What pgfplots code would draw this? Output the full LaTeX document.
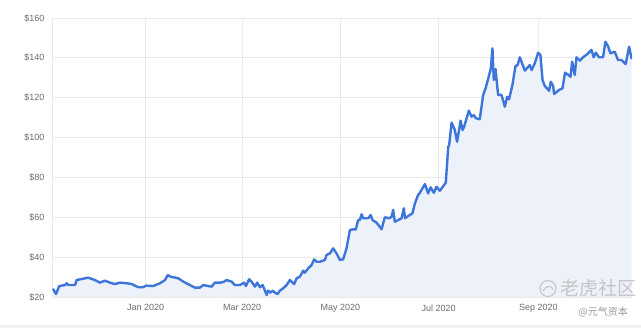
\documentclass[border=0pt]{standalone}
\usepackage{pgfplots}
\pgfplotsset{compat=1.18}
\usepackage{pgfplotstable}
\usepackage{fontspec}
\setmainfont{Liberation Sans}
\newfontfamily\cjk{Noto Sans CJK SC}
\definecolor{lineblue}{HTML}{3D75DA}
\definecolor{fillblue}{HTML}{EDF1FA}
\definecolor{gridgray}{HTML}{EAEAEA}
\definecolor{labgray}{HTML}{6B6B6B}
\definecolor{wmgray}{HTML}{C6C6C6}

\pgfplotstableread{
d v
-57.4 23.9
-55.7 21.5
-53.7 25.5
-50.1 26.0
-49.1 26.9
-48.1 26.0
-43.9 26.0
-42.9 28.5
-35.7 29.7
-31.5 28.5
-28.4 27.2
-25.3 28.2
-22.2 27.2
-19.1 26.5
-16.0 27.2
-11.8 26.9
-8.7 26.5
-4.6 24.9
-1.5 24.9
0.2 25.7
4.7 25.5
8.9 26.9
12.0 28.5
13.7 31.0
15.5 30.2
20.2 29.4
23.4 27.7
27.5 26.0
30.6 24.7
33.7 24.7
35.8 26.0
38.9 25.5
41.0 25.2
43.0 27.2
46.1 27.2
48.2 27.5
50.3 28.5
53.4 27.7
55.5 26.0
58.6 26.0
61.2 27.2
62.3 25.5
64.3 28.9
65.8 27.7
67.9 25.2
69.3 27.2
71.0 24.9
72.7 26.0
75.2 21.0
76.1 23.2
77.6 22.2
78.9 23.2
80.3 22.2
82.0 21.5
83.4 23.2
85.5 24.4
87.6 26.0
89.6 28.5
91.3 27.2
92.3 26.5
93.8 29.4
95.8 30.2
97.9 33.2
98.9 32.2
101.0 34.4
103.1 36.0
104.7 38.9
106.2 37.7
108.3 37.7
111.4 38.6
112.4 41.1
114.5 41.9
116.5 44.4
118.6 41.9
120.7 38.6
122.7 38.9
124.8 44.4
126.9 53.6
128.6 53.9
130.6 53.9
132.0 58.6
133.1 58.6
134.2 61.5
135.2 59.5
138.3 59.5
139.8 61.1
141.0 58.6
143.5 57.3
146.6 54.0
148.6 60.0
151.3 59.5
152.8 60.3
153.8 63.7
154.8 57.8
156.9 58.6
159.0 59.5
160.4 64.5
161.2 59.5
163.1 60.6
165.8 62.0
167.3 67.0
169.3 71.2
170.4 72.3
173.5 76.7
175.5 72.0
177.0 75.0
179.1 72.3
180.7 75.3
182.8 73.3
186.5 77.4
188.0 95.4
188.6 96.3
190.1 107.5
192.1 103.8
193.5 97.9
195.7 108.5
196.9 103.8
197.9 105.5
200.8 113.5
202.5 110.5
203.9 111.3
205.2 109.7
207.6 109.2
209.7 121.4
211.2 124.7
212.8 129.4
214.5 134.8
215.5 144.8
216.3 128.9
217.4 134.4
219.0 121.4
221.1 121.4
223.2 115.5
224.6 120.5
225.8 119.2
227.9 126.4
229.8 135.9
231.1 136.4
232.5 140.3
235.6 133.6
238.7 136.4
239.8 133.9
241.8 137.3
243.9 142.6
245.3 141.4
246.6 128.9
248.0 125.9
250.7 123.5
251.7 128.0
253.2 125.9
253.8 121.9
256.9 123.9
259.0 124.7
260.6 132.6
262.7 131.4
264.0 130.5
265.0 138.1
266.6 131.4
267.7 140.3
269.8 138.6
271.8 140.3
274.3 141.8
277.0 144.0
278.4 140.3
279.7 142.6
281.7 140.3
284.2 140.3
285.7 148.1
287.3 145.9
288.8 142.3
291.5 143.1
293.5 138.9
295.7 138.9
298.3 136.9
300.4 145.6
301.9 139.8
}\pricedata

\begin{document}
\begin{tikzpicture}
\begin{axis}[
  scale only axis,
  width=580bp, height=279bp,
  xmin=-58.2, xmax=302.2,
  ymin=20, ymax=160,
  axis line style={draw=none},
  tick style={draw=none},
  grid=major,
  major grid style={gridgray, line width=0.8bp},
  xtick={0,60,121,182,244},
  xticklabels={Jan 2020,Mar 2020,May 2020,Jul 2020,Sep 2020},
  ytick={20,40,60,80,100,120,140,160},
  yticklabels={\$20,\$40,\$60,\$80,\$100,\$120,\$140,\$160},
  tick label style={font=\fontsize{9bp}{10bp}\selectfont, text=labgray},
  yticklabel style={xshift=-4bp},
  xticklabel style={yshift=-4bp},
  extra x ticks={-58.2},
  extra x tick labels={},
  extra x tick style={grid=major},
  clip=true,
]
\addplot[fill=fillblue, draw=none] table[x=d,y=v] {\pricedata} \closedcycle;
\addplot[lineblue, line width=2.4bp, line join=round, line cap=round] table[x=d,y=v] {\pricedata};
\end{axis}
% watermark
\draw[wmgray, line width=1.1bp] (496bp,8.5bp) circle (8bp);
\draw[wmgray, line width=1.1bp] (491bp,6bp) .. controls (494bp,12bp) and (500bp,12bp) .. (501bp,7bp);
\node[anchor=west, text=wmgray, inner sep=0pt] at (508bp,9bp) {\cjk\fontsize{19bp}{20bp}\selectfont 老虎社区};
\node[anchor=east, text=black!40, inner sep=0pt] at (576bp,-15bp) {\cjk\fontsize{10bp}{11bp}\selectfont @元气资本};
\fill[black!6] (-52bp,-31bp) rectangle (589bp,-28bp);
\pgfresetboundingbox
\path (-52bp,-31bp) rectangle (589bp,297bp);
\end{tikzpicture}
\end{document}
